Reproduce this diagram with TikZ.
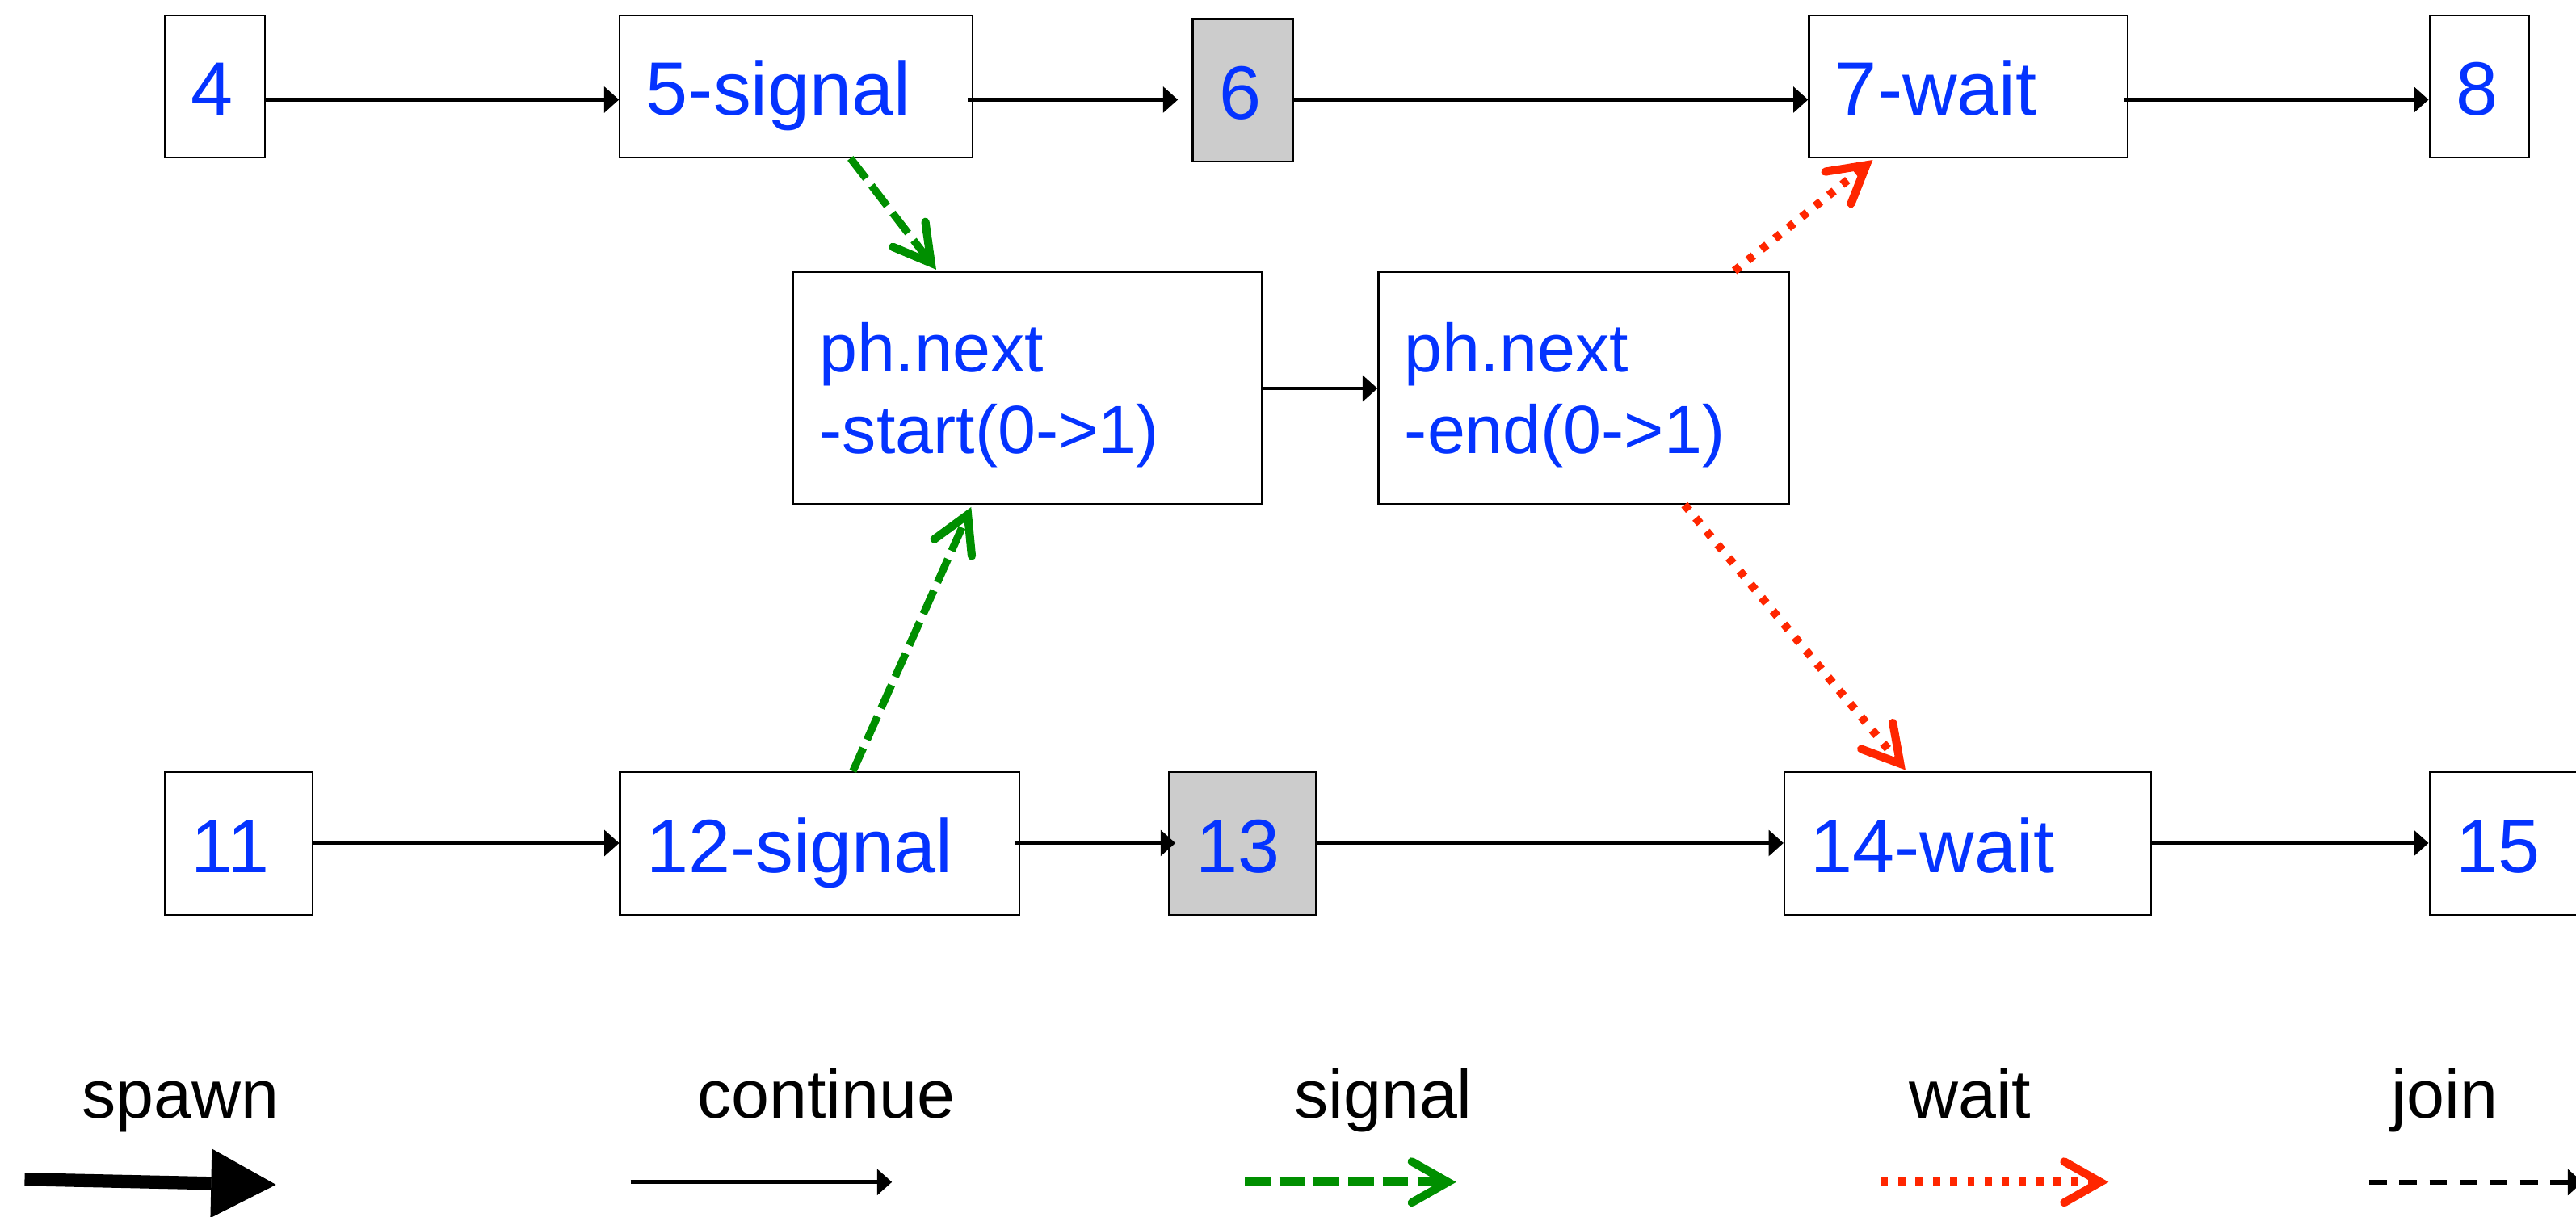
\documentclass[tikz,border=0pt]{standalone}
\usepackage{fontspec}
\setmainfont{Liberation Sans}
\usetikzlibrary{arrows.meta,calc}
\definecolor{txtblue}{RGB}{4,51,255}
\definecolor{sgreen}{RGB}{0,143,0}
\definecolor{wred}{RGB}{255,38,0}
\definecolor{boxgray}{RGB}{204,204,204}
\begin{document}
\begin{tikzpicture}[x=1pt,y=-1pt,
  box/.style={draw=black, line width=1.1pt, inner xsep=16pt, inner ysep=0pt,
    text=txtblue, font=\fontsize{46}{55}\selectfont, text height=35.6pt, text depth=0pt},
  midbox/.style={draw=black, line width=1.1pt, inner xsep=16pt, inner ysep=0pt,
    text=txtblue, font=\fontsize{41.5}{50}\selectfont, text depth=0pt},
  graybox/.style={fill=boxgray},
  legtext/.style={anchor=base, text=black, font=\fontsize{41.5}{50}\selectfont, inner sep=0pt},
  cont/.style={black, line width=2.4pt, -{Triangle[length=9pt,width=16pt,line width=0.5pt]}},
  joinline/.style={black, line width=2.6pt, dash pattern=on 10.7pt off 7.7pt,
    -{Triangle[length=9pt,width=16pt,line width=0.5pt]}},
  spawnline/.style={black, line width=8pt, -{Triangle[length=39.5pt,width=42pt,line width=0.5pt]}},
  sig/.style={sgreen, line width=4.6pt, dash pattern=on 15.5pt off 5.5pt,
    -{Straight Barb[length=22pt,width=25pt,line width=5pt,line cap=round]}},
  wt/.style={wred, line width=5pt, dash pattern=on 4.3pt off 6.2pt,
    -{Straight Barb[length=22pt,width=25pt,line width=5pt,line cap=round]}},
  legthick/.style={line width=5.2pt}
]
\useasboundingbox (0,0) rectangle (1568,740.5);

% top row
\node[box] (b4) at (130.75,52.5) [minimum width=60.7pt, minimum height=86.6pt] {\makebox[28.7pt][l]{4}};
\node[box] (b5) at (484.65,52.5) [minimum width=214.7pt, minimum height=86.6pt] {\makebox[182.7pt][l]{5-signal}};
\node[box,graybox] (b6) at (756.5,54.9) [minimum width=61pt, minimum height=86.6pt] {\makebox[29pt][l]{6}};
\node[box] (b7) at (1198.05,52.5) [minimum width=193.9pt, minimum height=86.6pt] {\makebox[161.9pt][l]{7-wait}};
\node[box] (b8) at (1509.2,52.5) [minimum width=60.8pt, minimum height=86.6pt] {\makebox[28.8pt][l]{8}};

% middle
\node[midbox] (ms) at (625.5,236.15) [minimum width=285pt, minimum height=141.3pt]
  {\makebox[253pt][l]{\vbox{\hbox{ph.next}\hbox{-start(0->1)}}}};
\node[midbox] (me) at (964.05,236.15) [minimum width=250.1pt, minimum height=141.3pt]
  {\makebox[218.1pt][l]{\vbox{\hbox{ph.next}\hbox{-end(0->1)}}}};

% bottom row
\node[box] (b11) at (145.25,513.55) [minimum width=90.1pt, minimum height=86.9pt] {\makebox[58.1pt][l]{11}};
\node[box] (b12) at (498.95,513.55) [minimum width=243.1pt, minimum height=86.9pt] {\makebox[211.1pt][l]{12-signal}};
\node[box,graybox] (b13) at (756.45,513.55) [minimum width=89.5pt, minimum height=86.9pt] {\makebox[57.5pt][l]{13}};
\node[box] (b14) at (1197.75,513.55) [minimum width=223.3pt, minimum height=86.9pt] {\makebox[191.3pt][l]{14-wait}};
\node[box] (b15) at (1589.4,513.55) [minimum width=221.2pt, minimum height=86.9pt] {\makebox[189.2pt][l]{15}};

% levels of the continue connectors
\coordinate (ytop) at (0,60.7);
\coordinate (ymid) at (0,236.5);
\coordinate (ybot) at (0,513.3);

% continue connectors
\draw[cont] (b4.east |- ytop) -- (b5.west |- ytop);
\draw[cont] ($(b5.east |- ytop)+(-3.5,0)$) -- ($(b6.west |- ytop)+(-8.5,0)$);
\draw[cont] (b6.east |- ytop) -- (b7.west |- ytop);
\draw[cont] ($(b7.east |- ytop)+(-2.6,0)$) -- (b8.west |- ytop);
\draw[cont] (ms.east |- ymid) -- (me.west |- ymid);
\draw[cont] (b11.east |- ybot) -- (b12.west |- ybot);
\draw[cont] ($(b12.east |- ybot)+(-3.2,0)$) -- ($(b13.west |- ybot)+(4.3,0)$);
\draw[cont] (b13.east |- ybot) -- (b14.west |- ybot);
\draw[cont] (b14.east |- ybot) -- (b15.west |- ybot);

% signal connectors
\draw[sig] ($(b5.south west)+(140.9,0)$) -- ($(ms.north west)+(87.4,-0.8)$);
\draw[sig] ($(b12.north west)+(142.3,0)$) -- ($(ms.south west)+(108.7,1.4)$);

% wait connectors
\draw[wt] ($(me.north west)+(217.3,0)$) -- ($(b7.south west)+(39.4,1)$);
\draw[wt] ($(me.south west)+(186.9,0)$) -- ($(b14.north west)+(74.3,-0.7)$);

% legend
\node[legtext] (lspawn) at (110,680.5) {spawn};
\node[legtext] (lcont) at (503,680.5) {continue};
\node[legtext] (lsig) at (842,680.5) {signal};
\node[legtext] (lwait) at (1199,680.5) {wait};
\node[legtext] (ljoin) at (1488,680.5) {join};

\coordinate (sp1) at (15,718);
\coordinate (sp2) at (168,721.3);
\coordinate (co1) at (383.8,719.7);
\coordinate (co2) at (542.9,719.7);
\coordinate (si1) at (757.7,719.7);
\coordinate (si2) at (886.4,719.7);
\coordinate (wa1) at (1145,719.7);
\coordinate (wa2) at (1283.5,719.7);
\coordinate (jo1) at (1442,719.8);
\coordinate (jo2) at (1572,719.8);

\draw[spawnline] (sp1) -- (sp2);
\draw[cont] (co1) -- (co2);
\draw[sig,legthick] (si1) -- (si2);
\draw[wt,legthick] (wa1) -- (wa2);
\draw[joinline] (jo1) -- (jo2);
\end{tikzpicture}
\end{document}
